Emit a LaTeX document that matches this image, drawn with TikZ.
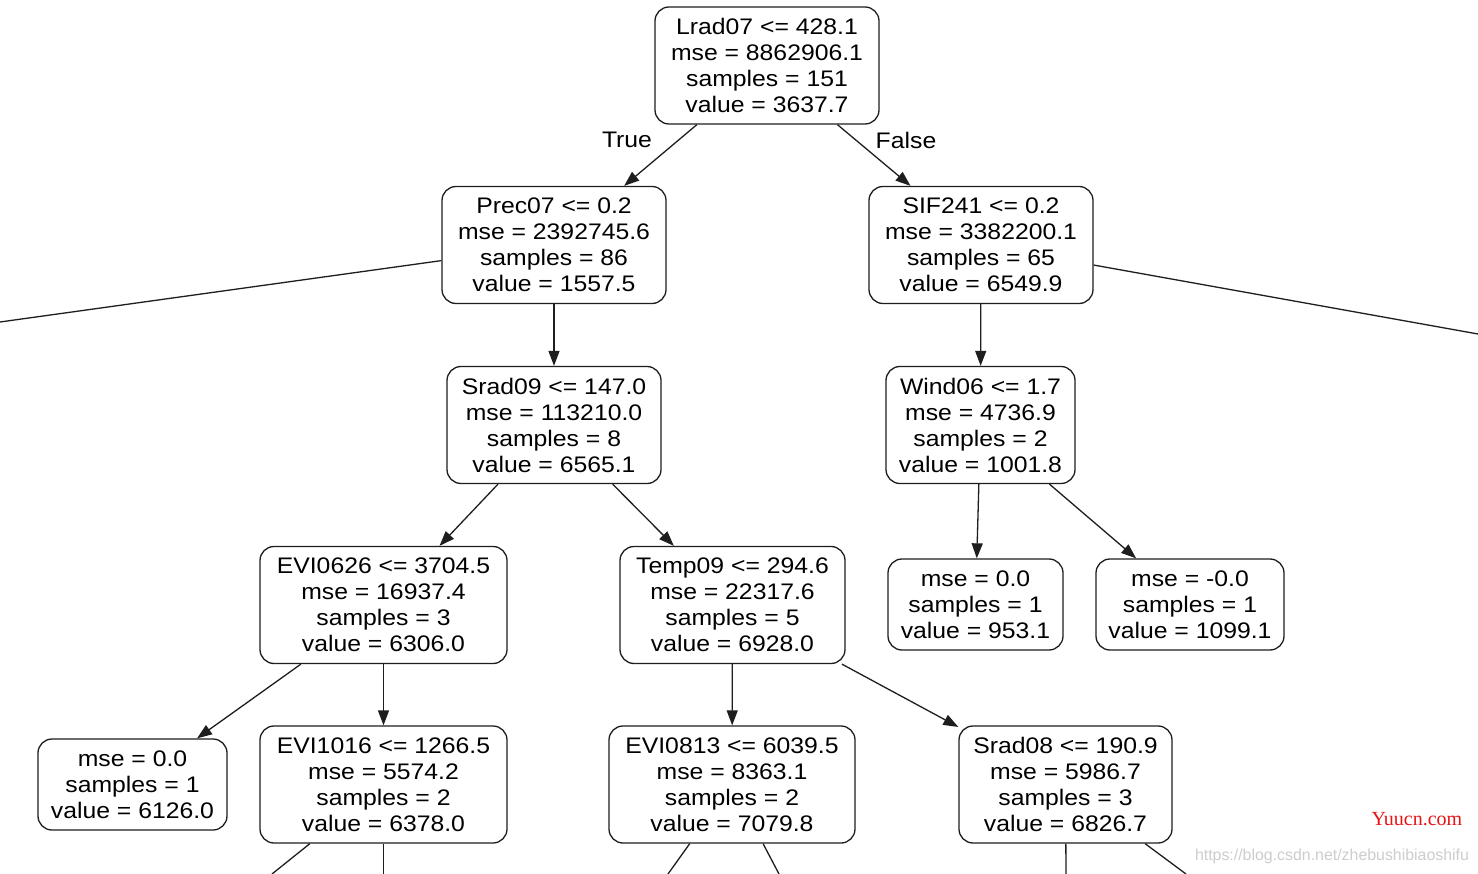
\documentclass[tikz,border=0pt]{standalone}
\usepackage{fontspec}
\setmainfont{Liberation Sans}[FakeStretch=1.1]
\newfontfamily\wmserif{Liberation Serif}
\newfontfamily\wmsans{Liberation Sans}
\usetikzlibrary{arrows.meta}
\definecolor{edgecol}{RGB}{30,30,30}
\begin{document}
\begin{tikzpicture}[x=1pt,y=-1pt,
  treebox/.style={draw=edgecol, line width=1.3pt, rounded corners=14pt, align=center,
    inner sep=0pt, font=\fontsize{22.5}{26}\selectfont, text=black},
  edgearrow/.style={line width=1.3pt, draw=edgecol, -{Triangle[length=15pt,width=11pt]}},
  edgeplain/.style={line width=1.3pt, draw=edgecol},
  lbl/.style={font=\fontsize{22.5}{26}\selectfont, text=black, inner sep=0pt}]
\useasboundingbox (0,0) rectangle (1478,874);
\fill[white] (0,0) rectangle (1478,874);
\clip (0,0) rectangle (1478,874);

% nodes
\node[treebox, minimum width=224pt, minimum height=117pt] (root) at (767,65.5)
  {Lrad07 <= 428.1\\mse = 8862906.1\\samples = 151\\value = 3637.7};
\node[treebox, minimum width=224pt, minimum height=117pt] (prec) at (554,245)
  {Prec07 <= 0.2\\mse = 2392745.6\\samples = 86\\value = 1557.5};
\node[treebox, minimum width=224pt, minimum height=117pt] (sif) at (981,245)
  {SIF241 <= 0.2\\mse = 3382200.1\\samples = 65\\value = 6549.9};
\node[treebox, minimum width=214pt, minimum height=117pt] (srad9) at (554,425)
  {Srad09 <= 147.0\\mse = 113210.0\\samples = 8\\value = 6565.1};
\node[treebox, minimum width=189pt, minimum height=117pt] (wind) at (980.5,425)
  {Wind06 <= 1.7\\mse = 4736.9\\samples = 2\\value = 1001.8};
\node[treebox, minimum width=247pt, minimum height=117pt] (evi626) at (383.5,605)
  {EVI0626 <= 3704.5\\mse = 16937.4\\samples = 3\\value = 6306.0};
\node[treebox, minimum width=225pt, minimum height=117pt] (temp) at (732.5,605)
  {Temp09 <= 294.6\\mse = 22317.6\\samples = 5\\value = 6928.0};
\node[treebox, minimum width=175pt, minimum height=91pt] (leafa) at (975.5,604.5)
  {mse = 0.0\\samples = 1\\value = 953.1};
\node[treebox, minimum width=188pt, minimum height=91pt] (leafb) at (1190,604.5)
  {mse = -0.0\\samples = 1\\value = 1099.1};
\node[treebox, minimum width=189pt, minimum height=91pt] (leafc) at (132.5,784.5)
  {mse = 0.0\\samples = 1\\value = 6126.0};
\node[treebox, minimum width=247pt, minimum height=117pt] (evi1016) at (383.5,784.5)
  {EVI1016 <= 1266.5\\mse = 5574.2\\samples = 2\\value = 6378.0};
\node[treebox, minimum width=246pt, minimum height=117pt] (evi813) at (732,784.5)
  {EVI0813 <= 6039.5\\mse = 8363.1\\samples = 2\\value = 7079.8};
\node[treebox, minimum width=213pt, minimum height=117pt] (srad8) at (1065.5,784.5)
  {Srad08 <= 190.9\\mse = 5986.7\\samples = 3\\value = 6826.7};

% off-picture ends
\coordinate (offL) at (0,322);
\coordinate (offR) at (1478,334);
\coordinate (b1) at (272,874);
\coordinate (b2) at (383.5,874);
\coordinate (b3) at (668,874);
\coordinate (b4) at (779,874);
\coordinate (b5) at (1066,874);
\coordinate (b6) at (1186,874);

% edges
\draw[edgearrow] (root) -- (prec);
\draw[edgearrow] (root) -- (sif);
\draw[edgeplain] (prec) -- (offL);
\draw[edgeplain] (sif) -- (offR);
\draw[edgearrow] (prec) -- (srad9);
\draw[edgearrow] (sif) -- (wind);
\draw[edgearrow] (srad9) -- (evi626);
\draw[edgearrow] (srad9) -- (temp);
\draw[edgearrow] (wind) -- (leafa);
\draw[edgearrow] (wind) -- (leafb);
\draw[edgearrow] (evi626) -- (leafc);
\draw[edgearrow] (evi626) -- (evi1016);
\draw[edgearrow] (temp) -- (evi813);
\draw[edgearrow] (temp) -- (srad8);
\draw[edgeplain] (evi1016) -- (b1);
\draw[edgeplain] (evi1016) -- (b2);
\draw[edgeplain] (evi813) -- (b3);
\draw[edgeplain] (evi813) -- (b4);
\draw[edgeplain] (srad8) -- (b5);
\draw[edgeplain] (srad8) -- (b6);

% edge labels
\node[lbl] (ltrue) at (627,140) {True};
\node[lbl] (lfalse) at (906,140) {False};

% watermarks
\node[inner sep=0pt, text={rgb,255:red,230;green,20;blue,20}, font=\wmserif\fontsize{20}{20}\selectfont] (wm1) at (1417,819) {Yuucn.com};
\node[inner sep=0pt, text={rgb,255:red,205;green,205;blue,205}, font=\wmsans\fontsize{15.9}{16}\selectfont] (wm2) at (1332,856) {https://blog.csdn.net/zhebushibiaoshifu};
\end{tikzpicture}
\end{document}
